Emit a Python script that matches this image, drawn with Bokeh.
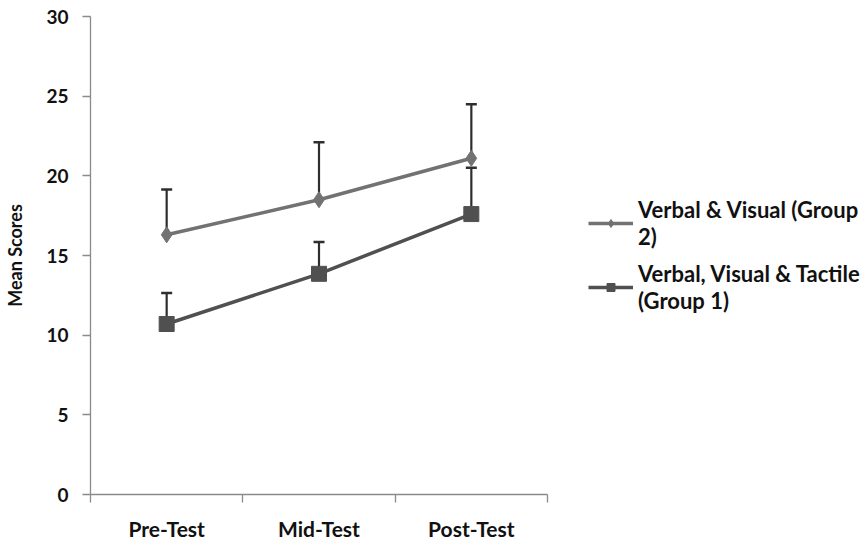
from bokeh.plotting import figure
from bokeh.models import (ColumnDataSource, Range1d, FixedTicker, Legend, LegendItem, Whisker)
from bokeh.embed import file_html
from bokeh.resources import INLINE

categories = ["Pre-Test", "Mid-Test", "Post-Test"]
group2_mean = [16.3, 18.5, 21.1]
group2_err = [2.85, 3.6, 3.4]
group1_mean = [10.7, 13.85, 17.6]
group1_err = [1.95, 2.0, 2.9]
y_ticks = [0, 5, 10, 15, 20, 25, 30]

xs = [i + 0.5 for i in range(len(categories))]
FONT = "Lato"

p = figure(frame_width=457, frame_height=478, min_border_left=90, min_border_top=16,
           min_border_right=10, min_border_bottom=40,
           x_range=Range1d(0, len(categories)), y_range=Range1d(0, 30),
           output_backend="svg", toolbar_location=None)
p.outline_line_color = None
p.xgrid.visible = False
p.ygrid.visible = False
p.background_fill_color = "white"
p.border_fill_color = "white"

# axes styling
for ax in (p.xaxis[0], p.yaxis[0]):
    ax.axis_line_color = "#8a8a8a"
    ax.axis_line_width = 1.3
    ax.major_label_text_font = FONT
    ax.major_label_text_font_style = "bold"
    ax.major_label_text_color = "#111111"

p.xaxis.major_label_text_font_size = "21px"
p.yaxis.major_label_text_font_size = "19px"

p.xaxis.ticker = FixedTicker(ticks=xs, minor_ticks=list(range(len(categories) + 1)))
p.xaxis.major_label_overrides = {x: c for x, c in zip(xs, categories)}
p.xaxis.major_tick_line_color = None
p.xaxis.major_tick_out = 0
p.xaxis.major_tick_in = 0
p.xaxis.minor_tick_line_color = "#8a8a8a"
p.xaxis.minor_tick_line_width = 1.3
p.xaxis.minor_tick_out = 8
p.xaxis.minor_tick_in = 0
p.xaxis.major_label_standoff = 13

p.yaxis.ticker = FixedTicker(ticks=y_ticks, minor_ticks=[])
p.yaxis.major_tick_line_color = "#8a8a8a"
p.yaxis.major_tick_line_width = 1.3
p.yaxis.major_tick_out = 8
p.yaxis.major_tick_in = 0
p.yaxis.minor_tick_line_color = None
p.yaxis.major_label_standoff = 14
p.yaxis.axis_label = "Mean Scores"
p.yaxis.axis_label_text_font = FONT
p.yaxis.axis_label_text_font_style = "bold"
p.yaxis.axis_label_text_font_size = "18px"
p.yaxis.axis_label_text_color = "#111111"
p.yaxis.axis_label_standoff = 17

src2 = ColumnDataSource(dict(x=xs, y=group2_mean,
                             up=[m + e for m, e in zip(group2_mean, group2_err)]))
src1 = ColumnDataSource(dict(x=xs, y=group1_mean,
                             up=[m + e for m, e in zip(group1_mean, group1_err)]))

for src in (src2, src1):
    w = Whisker(source=src, base="x", upper="up", lower="y", dimension="height",
                line_color="#2e2e2e", line_width=2.2)
    w.upper_head.size = 11
    w.upper_head.line_color = "#2e2e2e"
    w.upper_head.line_width = 2.5
    w.lower_head = None
    p.add_layout(w)

c2 = "#727272"
c1 = "#505050"
l2 = p.line("x", "y", source=src2, line_color=c2, line_width=3.5)
m2 = p.scatter("x", "y", source=src2, marker="diamond", size=16, fill_color=c2, line_color=c2)
l1 = p.line("x", "y", source=src1, line_color=c1, line_width=3.5)
m1 = p.scatter("x", "y", source=src1, marker="square", size=15, fill_color=c1, line_color=c1)

legend = Legend(items=[
    LegendItem(label="Verbal & Visual (Group\n2)", renderers=[l2, m2]),
    LegendItem(label="Verbal, Visual & Tactile\n(Group 1)", renderers=[l1, m1]),
], location="center_left")
legend.label_text_font = FONT
legend.label_text_font_style = "bold"
legend.label_text_font_size = "22px"
legend.label_text_color = "#111111"
legend.border_line_color = None
legend.background_fill_alpha = 0
legend.glyph_width = 45
legend.label_standoff = 5
legend.spacing = 10
legend.margin = 41
legend.padding = 0
p.add_layout(legend, "right")

open("out.html", "w").write(file_html(p, INLINE))
